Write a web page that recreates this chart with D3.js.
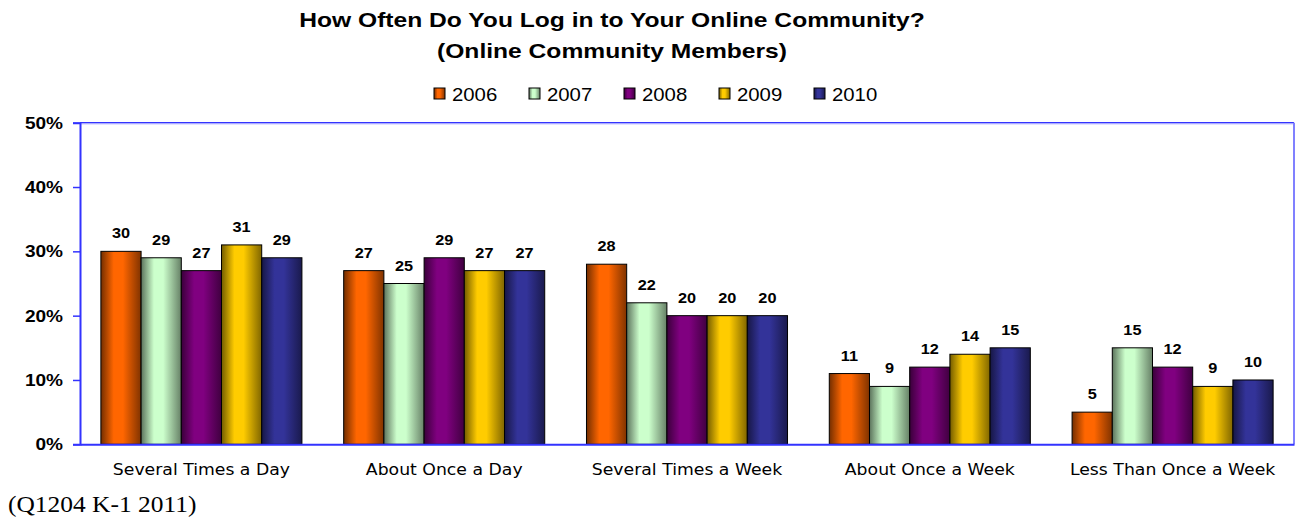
<!DOCTYPE html>
<html>
<head>
<meta charset="utf-8">
<script src="https://cdn.jsdelivr.net/npm/d3@7"></script>
<style>
  html, body { margin: 0; padding: 0; background: #fff; }
  svg { display: block; }
</style>
</head>
<body>
<svg id="chart" width="1299" height="521"></svg>
<script>
const categories = ["Several Times a Day", "About Once a Day", "Several Times a Week", "About Once a Week", "Less Than Once a Week"];
const years = ["2006", "2007", "2008", "2009", "2010"];
const values2006 = [30, 27, 28, 11, 5];
const values2007 = [29, 25, 22, 9, 15];
const values2008 = [27, 29, 20, 12, 12];
const values2009 = [31, 27, 20, 14, 9];
const values2010 = [29, 27, 20, 15, 10];
const yTicks = [0, 10, 20, 30, 40, 50];
const titleLines = ["How Often Do You Log in to Your Online Community?", "(Online Community Members)"];
const footnote = "(Q1204 K-1 2011)";

const seriesValues = [values2006, values2007, values2008, values2009, values2010];
const baseColors = ["#FF6600", "#CCFFCC", "#800080", "#FFCC00", "#333399"];

const svg = d3.select("#chart");
const plotLeft = 80, plotRight = 1294, plotTop = 122.7, plotBottom = 444.3;

// horizontal stretch helper (reference text is slightly widened)
function stretch(sel, factor) {
  sel.each(function () {
    const len = this.getComputedTextLength();
    d3.select(this).attr("textLength", len * factor).attr("lengthAdjust", "spacingAndGlyphs");
  });
}

const x = d3.scaleBand().domain(categories).range([plotLeft, plotRight]).paddingInner(0.172).paddingOuter(0.086);
const xs = d3.scaleBand().domain(years).range([0, x.bandwidth()]);
const y = d3.scaleLinear().domain([0, 50]).range([plotBottom, plotTop]);

// gradients
const defs = svg.append("defs");
baseColors.forEach((c, i) => {
  const g = defs.append("linearGradient").attr("id", "grad" + i)
    .attr("x1", "0%").attr("x2", "100%").attr("y1", "0%").attr("y2", "0%");
  const dark = d3.interpolateRgb(c, "#000")(0.55);
  const dark2 = d3.interpolateRgb(c, "#000")(0.5);
  g.append("stop").attr("offset", "0%").attr("stop-color", dark);
  g.append("stop").attr("offset", "32%").attr("stop-color", c);
  g.append("stop").attr("offset", "55%").attr("stop-color", c);
  g.append("stop").attr("offset", "100%").attr("stop-color", dark2);
});

// plot frame
svg.append("line").attr("x1", plotLeft).attr("x2", plotRight).attr("y1", plotTop + 1.2).attr("y2", plotTop + 1.2)
  .attr("stroke", "#b8b8ff").attr("stroke-width", 1);
svg.append("line").attr("x1", plotLeft).attr("x2", plotRight).attr("y1", plotTop).attr("y2", plotTop)
  .attr("stroke", "#3333ff").attr("stroke-width", 1.2);
svg.append("line").attr("x1", plotRight).attr("x2", plotRight).attr("y1", plotTop).attr("y2", plotBottom)
  .attr("stroke", "#8080ff").attr("stroke-width", 2);

// bars
const data = [];
categories.forEach((cat, ci) => {
  years.forEach((yr, si) => data.push({ cat, yr, si, v: seriesValues[si][ci] }));
});

const gBars = svg.append("g");
gBars.selectAll("rect").data(data).join("rect")
  .attr("x", d => x(d.cat) + xs(d.yr))
  .attr("y", d => y(d.v))
  .attr("width", xs.bandwidth())
  .attr("height", d => y(0) - y(d.v))
  .attr("fill", d => `url(#grad${d.si})`)
  .attr("stroke", "#000").attr("stroke-width", 1);

const labels = gBars.selectAll("text").data(data).join("text")
  .attr("x", d => x(d.cat) + xs(d.yr) + xs.bandwidth() / 2)
  .attr("y", d => y(d.v) - 13)
  .attr("text-anchor", "middle")
  .attr("font-family", "Liberation Sans, Arial, sans-serif")
  .attr("font-weight", "bold")
  .attr("font-size", 15.5)
  .attr("fill", "#000")
  .text(d => d.v);
stretch(labels, 1.05);

// y axis
const yAxis = d3.axisLeft(y).tickValues(yTicks).tickFormat(d => d + "%").tickSize(7).tickPadding(10);
const gy = svg.append("g").attr("transform", `translate(${plotLeft},0)`).call(yAxis);
gy.select(".domain").attr("stroke", "#3333ff").attr("stroke-width", 2);
gy.selectAll(".tick line").attr("stroke", "#3333ff").attr("stroke-width", 1.5);
const yLabels = gy.selectAll(".tick text")
  .attr("font-family", "Liberation Sans, Arial, sans-serif")
  .attr("font-weight", "bold").attr("font-size", 17).attr("fill", "#000");
stretch(yLabels, 1.12);

// x axis
const xAxis = d3.axisBottom(x).tickSize(0).tickPadding(19);
const gx = svg.append("g").attr("transform", `translate(0,${plotBottom})`).call(xAxis);
gx.select(".domain").attr("stroke", "#3333ff").attr("stroke-width", 2);
const xLabels = gx.selectAll(".tick text")
  .attr("font-family", "DejaVu Sans, Verdana, sans-serif")
  .attr("font-size", 16.3).attr("fill", "#000");
stretch(xLabels, 1.06);

// title
const titles = svg.append("g").selectAll("text").data(titleLines).join("text")
  .attr("x", 612)
  .attr("y", (d, i) => 27 + i * 30.5)
  .attr("text-anchor", "middle")
  .attr("font-family", "Liberation Sans, Arial, sans-serif")
  .attr("font-weight", "bold")
  .attr("font-size", 20.5)
  .attr("fill", "#000")
  .text(d => d);
stretch(titles, 1.2);

// legend
const lg = svg.append("g").selectAll("g").data(years).join("g")
  .attr("transform", (d, i) => `translate(${434 + i * 95},0)`);
lg.append("rect").attr("x", 0).attr("y", 88).attr("width", 11).attr("height", 11)
  .attr("fill", (d, i) => `url(#grad${i})`).attr("stroke", "#000").attr("stroke-width", 1);
const legTexts = lg.append("text").attr("x", 18).attr("y", 100.5)
  .attr("font-family", "Liberation Sans, Arial, sans-serif")
  .attr("font-size", 19).attr("fill", "#000")
  .text(d => d);
stretch(legTexts, 1.07);

// footnote
const foot = svg.append("text").attr("x", 8).attr("y", 512)
  .attr("font-family", "Liberation Serif, Times New Roman, serif")
  .attr("font-size", 24).attr("fill", "#000")
  .text(footnote);
stretch(foot, 1.06);
</script>
</body>
</html>
